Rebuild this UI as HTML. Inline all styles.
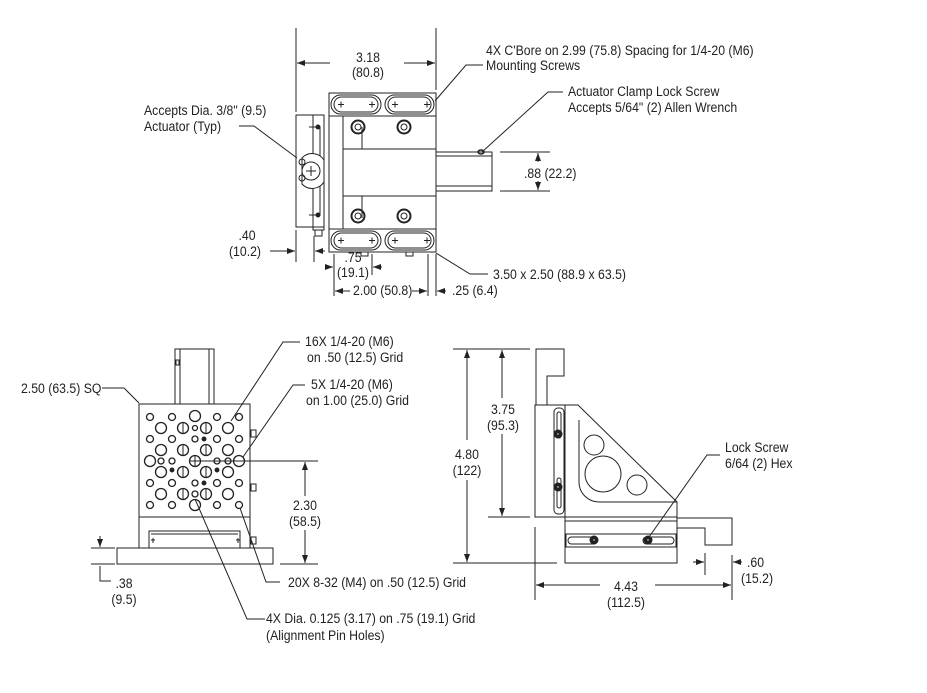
<!DOCTYPE html>
<html><head><meta charset="utf-8"><style>
html,body{margin:0;padding:0;background:#fff}
svg{display:block}
text{font-family:"Liberation Sans Narrow","Liberation Sans",sans-serif;font-size:13.5px;fill:#222;transform-box:fill-box;transform-origin:0 50%;transform:scaleX(.91)}
.c{text-anchor:middle;transform-origin:50% 50%}
</style></head><body>
<svg width="927" height="693" viewBox="0 0 927 693" xmlns="http://www.w3.org/2000/svg">
<defs>
<marker id="a" markerWidth="8" markerHeight="6" refX="8" refY="3" orient="auto" markerUnits="userSpaceOnUse"><path d="M0,0 L8,3 L0,6 z" fill="#222"/></marker>
</defs>
<g fill="none" stroke="#222" stroke-width="1">
<!-- ===== TOP VIEW ===== -->
<line x1="296" y1="28" x2="296" y2="112"/>
<line x1="436" y1="28" x2="436" y2="90"/>
<line x1="330" y1="63" x2="297" y2="63" marker-end="url(#a)"/>
<line x1="404" y1="63" x2="435" y2="63" marker-end="url(#a)"/>
<rect x="329" y="93" width="107" height="159"/>
<line x1="329" y1="116" x2="436" y2="116"/>
<line x1="329" y1="229" x2="436" y2="229"/>
<rect x="331" y="95" width="50" height="19" rx="9.5"/><rect x="334" y="97" width="44" height="15" rx="7.5"/>
<rect x="385" y="95" width="49" height="19" rx="9.5"/><rect x="388" y="97" width="43" height="15" rx="7.5"/>
<rect x="331" y="231" width="50" height="19" rx="9.5"/><rect x="334" y="233" width="44" height="15" rx="7.5"/>
<rect x="385" y="231" width="49" height="19" rx="9.5"/><rect x="388" y="233" width="43" height="15" rx="7.5"/>
<path d="M338,104.5h6M341,101.5v6M369,104.5h6M372,101.5v6M392,104.5h6M395,101.5v6M424,104.5h6M427,101.5v6"/>
<path d="M338,240.5h6M341,237.5v6M369,240.5h6M372,237.5v6M392,240.5h6M395,237.5v6M424,240.5h6M427,237.5v6"/>
<line x1="343" y1="116" x2="343" y2="229"/>
<line x1="343" y1="149" x2="436" y2="149"/>
<line x1="343" y1="196" x2="436" y2="196"/>
<line x1="362" y1="127" x2="362" y2="149"/><line x1="362" y1="196" x2="362" y2="218"/>
<circle cx="358" cy="127" r="6.5" stroke-width="2"/><circle cx="358" cy="127" r="3"/>
<circle cx="404" cy="127" r="6.5" stroke-width="2"/><circle cx="404" cy="127" r="3"/>
<circle cx="358" cy="216" r="6.5" stroke-width="2"/><circle cx="358" cy="216" r="3"/>
<circle cx="404" cy="216" r="6.5" stroke-width="2"/><circle cx="404" cy="216" r="3"/>
<rect x="361" y="252" width="7" height="4"/><rect x="406" y="252" width="7" height="4"/>
<!-- tube -->
<path d="M436,152 H492 V191 H436"/>
<line x1="436" y1="156" x2="492" y2="156"/><line x1="436" y1="186" x2="492" y2="186"/>
<ellipse cx="481" cy="152" rx="3" ry="2" stroke-width="1.5"/>
<!-- left bracket -->
<rect x="296" y="115" width="28" height="112"/>
<rect x="313" y="115" width="11" height="115"/>
<path d="M309,127 H320 V215 H309" />
<circle cx="318" cy="127" r="2" fill="#222"/><circle cx="318" cy="215" r="2" fill="#222"/>
<path d="M302,158 A14,14 0 0 1 324,160 V182 A14,14 0 0 1 302,184 Z" fill="#fff"/>
<circle cx="311" cy="171" r="9"/>
<path d="M306,171h10M311,166v10"/>
<circle cx="302" cy="162" r="3"/><circle cx="302" cy="178" r="3"/>
<rect x="315" y="230" width="7" height="6"/>
<!-- top view dims -->
<line x1="500" y1="152" x2="550" y2="152"/><line x1="500" y1="191" x2="550" y2="191"/>
<line x1="538" y1="162" x2="538" y2="153" marker-end="url(#a)"/>
<line x1="538" y1="181" x2="538" y2="190" marker-end="url(#a)"/>
<line x1="296" y1="230" x2="296" y2="262"/><line x1="314" y1="236" x2="314" y2="262"/>
<line x1="270" y1="251" x2="295" y2="251" marker-end="url(#a)"/>
<line x1="325" y1="251" x2="315" y2="251" marker-end="url(#a)"/>
<line x1="334" y1="254" x2="334" y2="296"/><line x1="372" y1="254" x2="372" y2="275"/>
<line x1="325" y1="267" x2="333" y2="267" marker-end="url(#a)"/>
<line x1="382" y1="267" x2="373" y2="267" marker-end="url(#a)"/>
<line x1="428" y1="254" x2="428" y2="296"/><line x1="436" y1="254" x2="436" y2="296"/>
<line x1="350" y1="291" x2="335" y2="291" marker-end="url(#a)"/>
<line x1="412" y1="291" x2="427" y2="291" marker-end="url(#a)"/>
<line x1="446" y1="291" x2="437" y2="291" marker-end="url(#a)"/>
<!-- top leaders -->
<path d="M483,65 H466 L435,101"/>
<path d="M563,92 H548 L482,152"/>
<path d="M239,126 H254 L297,158"/>
<path d="M436,253 L470,274 H488"/>

<!-- ===== FRONT VIEW ===== -->
<rect x="175" y="349" width="39" height="55"/>
<line x1="180" y1="349" x2="180" y2="404"/><line x1="209" y1="349" x2="209" y2="404"/>
<rect x="176" y="360" width="3" height="5"/>
<rect x="139" y="404" width="111" height="113"/>
<rect x="139" y="517" width="111" height="31"/>
<path d="M149,548 V531 H240 V548"/><line x1="151" y1="534" x2="238" y2="534"/>
<path d="M151,540h4M153,538v5M236,540h4M238,538v5"/>
<rect x="117" y="548" width="156" height="16"/>
<rect x="251" y="430" width="5" height="7"/><rect x="251" y="484" width="5" height="7"/><rect x="251" y="537" width="5" height="7"/>
<g stroke-width="1.3">
<circle cx="150" cy="417" r="3.5"/><circle cx="172" cy="417" r="3.5"/><circle cx="195" cy="416" r="5.5"/><circle cx="217" cy="417" r="3.5"/><circle cx="239" cy="417" r="3.5"/>
<circle cx="161" cy="428" r="5.5"/><circle cx="183" cy="428" r="5.5"/><circle cx="195" cy="428" r="2.5"/><circle cx="206" cy="428" r="5.5"/><circle cx="228" cy="428" r="5.5"/>
<circle cx="150" cy="439" r="3.5"/><circle cx="172" cy="439" r="3.5"/><circle cx="195" cy="439" r="3"/><circle cx="204" cy="439" r="1.8" fill="#222"/><circle cx="217" cy="439" r="3.5"/><circle cx="239" cy="439" r="3.5"/>
<circle cx="161" cy="450" r="5.5"/><circle cx="183" cy="450" r="5.5"/><circle cx="206" cy="450" r="5.5"/><circle cx="228" cy="450" r="5.5"/>
<circle cx="150" cy="461" r="5.5"/><circle cx="161" cy="461" r="3"/><circle cx="172" cy="461" r="3"/><circle cx="195" cy="461" r="5.5"/><circle cx="217" cy="461" r="3"/><circle cx="228" cy="461" r="3"/><circle cx="239" cy="461" r="5.5"/>
<circle cx="161" cy="472" r="5.5"/><circle cx="172" cy="470" r="1.8" fill="#222"/><circle cx="183" cy="472" r="5.5"/><circle cx="206" cy="472" r="5.5"/><circle cx="217" cy="470" r="1.8" fill="#222"/><circle cx="228" cy="472" r="5.5"/>
<circle cx="150" cy="483" r="3.5"/><circle cx="172" cy="483" r="3.5"/><circle cx="195" cy="483" r="3"/><circle cx="204" cy="483" r="1.8" fill="#222"/><circle cx="217" cy="483" r="3.5"/><circle cx="239" cy="483" r="3.5"/>
<circle cx="161" cy="494" r="5.5"/><circle cx="183" cy="494" r="5.5"/><circle cx="195" cy="494" r="3"/><circle cx="206" cy="494" r="5.5"/><circle cx="228" cy="494" r="5.5"/>
<circle cx="150" cy="505" r="3.5"/><circle cx="172" cy="505" r="3.5"/><circle cx="195" cy="505" r="5.5"/><circle cx="217" cy="505" r="3.5"/><circle cx="239" cy="505" r="3.5"/>
</g>
<path d="M183,423v10M206,423v10M183,445v10M206,445v10M183,467v10M206,467v10M183,489v10M206,489v10M190,461h10M195,456v10"/>
<!-- front dims -->
<line x1="200" y1="461" x2="318" y2="461"/>
<line x1="280" y1="564" x2="318" y2="564"/>
<line x1="305" y1="496" x2="305" y2="462" marker-end="url(#a)"/>
<line x1="305" y1="530" x2="305" y2="563" marker-end="url(#a)"/>
<line x1="91" y1="548" x2="115" y2="548"/><line x1="91" y1="564" x2="115" y2="564"/>
<line x1="100" y1="536" x2="100" y2="547" marker-end="url(#a)"/>
<path d="M100,566 V581 H111"/>
<path d="M102,388 H124 L139,403"/>
<path d="M300,342 H283 L231,421"/>
<path d="M305,385 H293 L243,457"/>
<path d="M280,582 H266 L240,508"/>
<path d="M265,619 H247 L195,499"/>

<!-- ===== SIDE VIEW ===== -->
<path d="M536,405 V349 H564 V376 H547 V405"/>
<rect x="535" y="405" width="30" height="112"/>
<rect x="554" y="408" width="10" height="106" rx="4"/>
<rect x="557" y="412" width="4" height="26" rx="2"/><rect x="557" y="478" width="4" height="30" rx="2"/>
<circle cx="558" cy="434" r="4" fill="#222"/><circle cx="558" cy="487" r="4" fill="#222"/>
<circle cx="558" cy="434" r="1.2" fill="#fff"/><circle cx="558" cy="487" r="1.2" fill="#fff"/>
<path d="M565,405 H578 L677,502 V517 H565"/>
<path d="M579,420 V482 A20,20 0 0 0 599,502 H677"/>
<circle cx="594" cy="445" r="10"/><circle cx="603" cy="474" r="18"/><circle cx="637" cy="485" r="10"/>
<rect x="565" y="517" width="112" height="46"/>
<line x1="565" y1="521" x2="677" y2="521"/>
<rect x="566" y="534" width="110" height="13"/>
<rect x="568" y="537" width="29" height="7" rx="3.5"/><rect x="643" y="537" width="31" height="7" rx="3.5"/>
<circle cx="594" cy="540" r="4" fill="#222"/><circle cx="648" cy="540" r="4" fill="#222"/>
<circle cx="594" cy="540" r="1.2" fill="#fff"/><circle cx="648" cy="540" r="1.2" fill="#fff"/>
<path d="M677,518 H732 V545 H705 V528 H677"/>
<!-- side dims -->
<line x1="453" y1="349" x2="530" y2="349"/>
<line x1="453" y1="563" x2="557" y2="563"/>
<line x1="488" y1="517" x2="530" y2="517"/>
<line x1="467" y1="440" x2="467" y2="350" marker-end="url(#a)"/>
<line x1="467" y1="480" x2="467" y2="562" marker-end="url(#a)"/>
<line x1="502" y1="398" x2="502" y2="350" marker-end="url(#a)"/>
<line x1="502" y1="434" x2="502" y2="516" marker-end="url(#a)"/>
<line x1="535" y1="527" x2="535" y2="600"/><line x1="732" y1="555" x2="732" y2="600"/>
<line x1="600" y1="585" x2="536" y2="585" marker-end="url(#a)"/>
<line x1="655" y1="585" x2="731" y2="585" marker-end="url(#a)"/>
<line x1="705" y1="553" x2="705" y2="575"/>
<line x1="693" y1="562" x2="704" y2="562" marker-end="url(#a)"/>
<line x1="742" y1="562" x2="733" y2="562" marker-end="url(#a)"/>
<path d="M720,455 H707 L649,537"/>
</g>

<!-- TEXT -->
<text class="c" x="368" y="62">3.18</text>
<text class="c" x="368" y="77">(80.8)</text>
<text x="486" y="55">4X C'Bore  on 2.99 (75.8) Spacing for 1/4-20 (M6)</text>
<text x="486" y="70">Mounting Screws</text>
<text x="568" y="96">Actuator Clamp Lock Screw</text>
<text x="568" y="112">Accepts 5/64" (2) Allen Wrench</text>
<text x="144" y="115">Accepts Dia. 3/8" (9.5)</text>
<text x="144" y="131">Actuator (Typ)</text>
<text x="524" y="178">.88 (22.2)</text>
<text class="c" x="247" y="240">.40</text>
<text class="c" x="245" y="256">(10.2)</text>
<text class="c" x="353" y="262">.75</text>
<text class="c" x="353" y="277">(19.1)</text>
<text x="353" y="295">2.00 (50.8)</text>
<text x="452" y="295">.25 (6.4)</text>
<text x="493" y="279">3.50 x 2.50 (88.9 x 63.5)</text>
<text x="21" y="393">2.50 (63.5) SQ</text>
<text x="305" y="346">16X  1/4-20 (M6)</text>
<text x="307" y="362">on .50 (12.5) Grid</text>
<text x="311" y="389">5X  1/4-20 (M6)</text>
<text x="306" y="405">on 1.00 (25.0) Grid</text>
<text class="c" x="305" y="510">2.30</text>
<text class="c" x="305" y="526">(58.5)</text>
<text class="c" x="124" y="588">.38</text>
<text class="c" x="124" y="604">(9.5)</text>
<text x="288" y="587">20X  8-32 (M4) on .50 (12.5) Grid</text>
<text x="266" y="623">4X  Dia. 0.125 (3.17) on .75 (19.1) Grid</text>
<text x="266" y="640">(Alignment Pin Holes)</text>
<text class="c" x="467" y="459">4.80</text>
<text class="c" x="467" y="475">(122)</text>
<text class="c" x="503" y="414">3.75</text>
<text class="c" x="503" y="430">(95.3)</text>
<text class="c" x="626" y="591">4.43</text>
<text class="c" x="626" y="607">(112.5)</text>
<text x="747" y="567">.60</text>
<text x="741" y="583">(15.2)</text>
<text x="725" y="452">Lock Screw</text>
<text x="725" y="468">6/64 (2) Hex</text>
</svg>
</body></html>
